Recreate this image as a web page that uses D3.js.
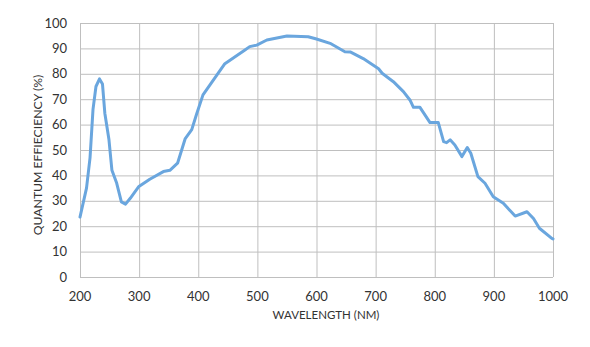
<!DOCTYPE html>
<html><head><meta charset="utf-8">
<script src="https://cdn.jsdelivr.net/npm/d3@7"></script>
<style>body{margin:0;background:#fff;} text{font-family:Lato,sans-serif;fill:#333;}</style>
</head><body><svg id="c" width="590" height="347"></svg>
<script>
const wavelength = [200,211,217,222,227,233,238,242,249,254,262,270,277,285,299,318,341,352,365,378,389,397,408,445,479,487,499,516,550,586,600,623,648,657,679,705,711,730,747,758,764,775,792,806,815,820,826,834,846,855,861,873,885,899,916,936,956,967,977,998,1000];
const qe = [23.6,35,47,66,75,78,76,64.5,54,42,37,29.6,28.7,31,35.5,38.5,41.5,42,44.8,54.5,58,64,71.7,84,89.4,90.7,91.3,93.3,94.9,94.6,93.7,92,88.7,88.6,86,82,80.2,76.9,73,69.7,66.8,66.8,60.8,60.8,53.3,52.9,54,52,47.4,51,48.7,39.5,36.9,31.6,29,24,25.7,23,19.2,15.2,15];
const xTicks = [200,300,400,500,600,700,800,900,1000];
const yTicks = [0,10,20,30,40,50,60,70,80,90,100];
const xTitle = "WAVELENGTH (NM)";
const yTitle = "QUANTUM EFFIECIENCY (%)";

const svg = d3.select("#c");
const x = d3.scaleLinear().domain([200,1000]).range([80,553]);
const y = d3.scaleLinear().domain([0,100]).range([277,23]);
const grid = "#bfbfbf";

svg.append("g").selectAll("line").data(yTicks).join("line")
  .attr("x1",x(200)).attr("x2",x(1000)).attr("y1",d=>y(d)+0.5).attr("y2",d=>y(d)+0.5)
  .attr("stroke",grid).attr("stroke-width",1);
svg.append("g").selectAll("line").data(xTicks).join("line")
  .attr("y1",y(0)).attr("y2",y(100)).attr("x1",d=>x(d)+0.5).attr("x2",d=>x(d)+0.5)
  .attr("stroke",grid).attr("stroke-width",1);

svg.append("g").selectAll("text").data(yTicks).join("text")
  .attr("x",67).attr("y",d=>y(d)).attr("dy","0.35em").attr("text-anchor","end")
  .attr("font-size",13).text(d=>d);
svg.append("g").selectAll("text").data(xTicks).join("text")
  .attr("x",d=>x(d)).attr("y",296).attr("dy","0.35em").attr("text-anchor","middle")
  .attr("font-size",13).text(d=>d);

svg.append("text").attr("x",326).attr("y",315).attr("dy","0.35em").attr("text-anchor","middle")
  .attr("font-size",11.5).text(xTitle);
svg.append("text").attr("transform","translate(38,155) rotate(-90)").attr("dy","0.35em")
  .attr("text-anchor","middle").attr("font-size",12.2).text(yTitle);

const line = d3.line().x((d,i)=>x(wavelength[i])).y(d=>y(d));
svg.append("path").datum(qe).attr("d",line).attr("fill","none")
  .attr("stroke","#6aa6de").attr("stroke-width",3).attr("stroke-linejoin","round").attr("stroke-linecap","round");
</script></body></html>
